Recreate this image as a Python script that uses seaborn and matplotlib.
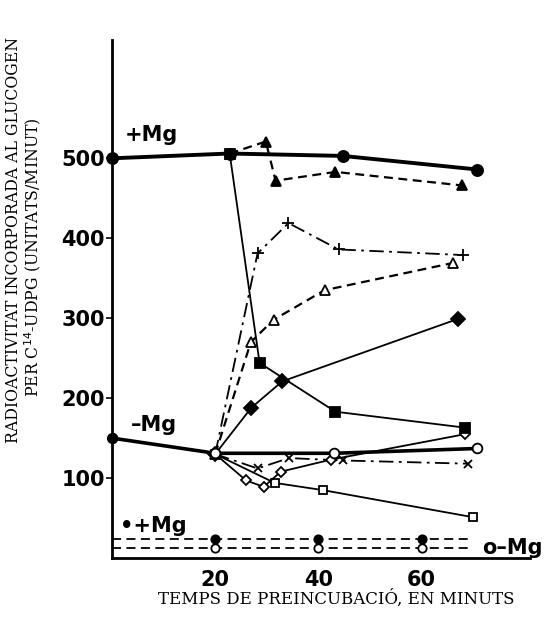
import matplotlib
matplotlib.use("Agg")
import matplotlib.pyplot as plt
import seaborn as sns
import numpy as np

sns.set_style("white")
plt.rcParams['font.family'] = ['DejaVu Sans']
plt.rcParams.update({'text.color': 'black', 'axes.labelcolor': 'black',
                     'xtick.color': 'black', 'ytick.color': 'black'})

# ---- data ----
plus_mg_x = [0, 22.8, 44.7, 70.8]
plus_mg_y = [500, 506, 503, 486]

minus_mg_x = [0, 20, 43, 70.8]
minus_mg_y = [150, 131, 131, 137]

sq_fill_x = [22.8, 28.6, 43.3, 68.5]
sq_fill_y = [506, 244, 183, 163]

tri_up_x = [22.8, 29.8, 31.7, 43.3, 67.9]
tri_up_y = [506, 521, 472, 483, 466]

plus_dd_x = [20, 28.2, 34.2, 43.9, 68.0]
plus_dd_y = [130, 381, 419, 386, 379]

tri_lo_x = [20, 26.9, 31.3, 41.2, 66.0]
tri_lo_y = [130, 270, 298, 335, 369]

dia_fill_x = [20, 27.0, 33.0, 67.0]
dia_fill_y = [130, 188, 221, 299]

dia_open_x = [20, 26.0, 29.4, 32.7, 42.4, 68.5]
dia_open_y = [130, 97, 89, 108, 123, 155]

cross_x = [20, 28.2, 34.3, 44.7, 68.9]
cross_y = [130, 112, 125, 122, 118]

sq_open_x = [20, 31.5, 40.8, 70.0]
sq_open_y = [130, 94, 85, 51]

base_x = [0, 20, 40, 60, 69]
base_plus_y = [24, 24, 24, 24, 24]
base_minus_y = [13, 13, 13, 13, 13]

y_ticks = [100, 200, 300, 400, 500]
x_ticks = [20, 40, 60]

# ---- figure ----
fig = plt.figure(figsize=(5.44, 6.28), dpi=100)
ax = fig.add_axes([112/544, (628-558)/628, (530-112)/544, (558-40)/628])

K = 'black'

def line(x, y, lw=1.3, ls='-', marker=None, ms=6, mfc=K, markevery=None):
    kw = dict(x=x, y=y, ax=ax, color=K, linewidth=lw, linestyle=ls,
              sort=False, estimator=None)
    if marker is not None:
        kw.update(marker=marker, markersize=ms, markerfacecolor=mfc,
                  markeredgecolor=K, markeredgewidth=1.3)
        if markevery is not None:
            kw.update(markevery=markevery)
    sns.lineplot(**kw)

# bottom baselines
line(base_x, base_plus_y, lw=1.3, ls=(0, (5, 3)), marker='o', ms=6, mfc=K, markevery=[1, 2, 3])
line(base_x, base_minus_y, lw=1.3, ls=(0, (5, 3)), marker='o', ms=6, mfc='white', markevery=[1, 2, 3])

line(sq_open_x, sq_open_y, lw=1.3, marker='s', ms=5.5, mfc='white')
line(cross_x, cross_y, lw=1.3, ls=(0, (8, 3, 1.5, 3)), marker='x', ms=6)
line(dia_open_x, dia_open_y, lw=1.3, marker='D', ms=5.5, mfc='white')
line(dia_fill_x, dia_fill_y, lw=1.3, marker='D', ms=7)
line(tri_lo_x, tri_lo_y, lw=1.6, ls=(0, (4, 2.5)), marker='^', ms=7, mfc='white')
line(plus_dd_x, plus_dd_y, lw=1.3, ls=(0, (8, 3, 1.5, 3)), marker='+', ms=9)
line(tri_up_x, tri_up_y, lw=1.6, ls=(0, (4, 2.5)), marker='^', ms=7)
line(sq_fill_x, sq_fill_y, lw=1.3, marker='s', ms=6.5)
line(minus_mg_x, minus_mg_y, lw=2.6, marker='o', ms=7, mfc='white')
line(plus_mg_x, plus_mg_y, lw=2.8, marker='o', ms=8)
# first points of main curves are filled
ax.plot([0], [minus_mg_y[0]], 'o', color=K, ms=7, clip_on=False)
ax.plot([0], [plus_mg_y[0]], 'o', color=K, ms=8, clip_on=False)

ax.set_xlim(0, 81)
ax.set_ylim(0, 648)
ax.set_xticks(x_ticks)
ax.set_yticks(y_ticks)
ax.set_xticklabels([str(v) for v in x_ticks], fontsize=15, fontweight='bold', color=K)
ax.set_yticklabels([str(v) for v in y_ticks], fontsize=15, fontweight='bold', color=K)
ax.tick_params(axis='y', left=True, direction='out', length=4, width=1.2, pad=1, color=K)
ax.tick_params(axis='x', bottom=True, direction='out', length=0, pad=9)
for s in ['top', 'right']:
    ax.spines[s].set_visible(False)
for s in ['left', 'bottom']:
    ax.spines[s].set_color(K)
    ax.spines[s].set_linewidth(2.0)
ax.set_xlabel('')
ax.set_ylabel('')

# labels inside plot
ax.text(2.5, 529, '+Mg', fontsize=15, fontweight='bold', va='center', ha='left')
ax.text(3.7, 166, '–Mg', fontsize=15, fontweight='bold', va='center', ha='left')
ax.text(1.5, 40, '•+Mg', fontsize=15, fontweight='bold', va='center', ha='left')
ax.text(71.8, 13, 'o–Mg', fontsize=15, fontweight='bold', va='center', ha='left', clip_on=False)

# axis titles (serif)
fig.text(336/544, 1 - 599/628, 'TEMPS DE PREINCUBACIÓ, EN MINUTS', family='DejaVu Serif',
         fontsize=12, ha='center', va='center')
fig.text(14/544, 1 - 240/628, 'RADIOACTIVITAT INCORPORADA AL GLUCOGEN', family='DejaVu Serif',
         fontsize=11.3, rotation=90, ha='center', va='center')
fig.text(33/544, 1 - 257/628, 'PER C$^{14}$-UDPG (UNITATS/MINUT)', family='DejaVu Serif',
         fontsize=11.3, rotation=90, ha='center', va='center')

fig.savefig('out.png', dpi=100)
